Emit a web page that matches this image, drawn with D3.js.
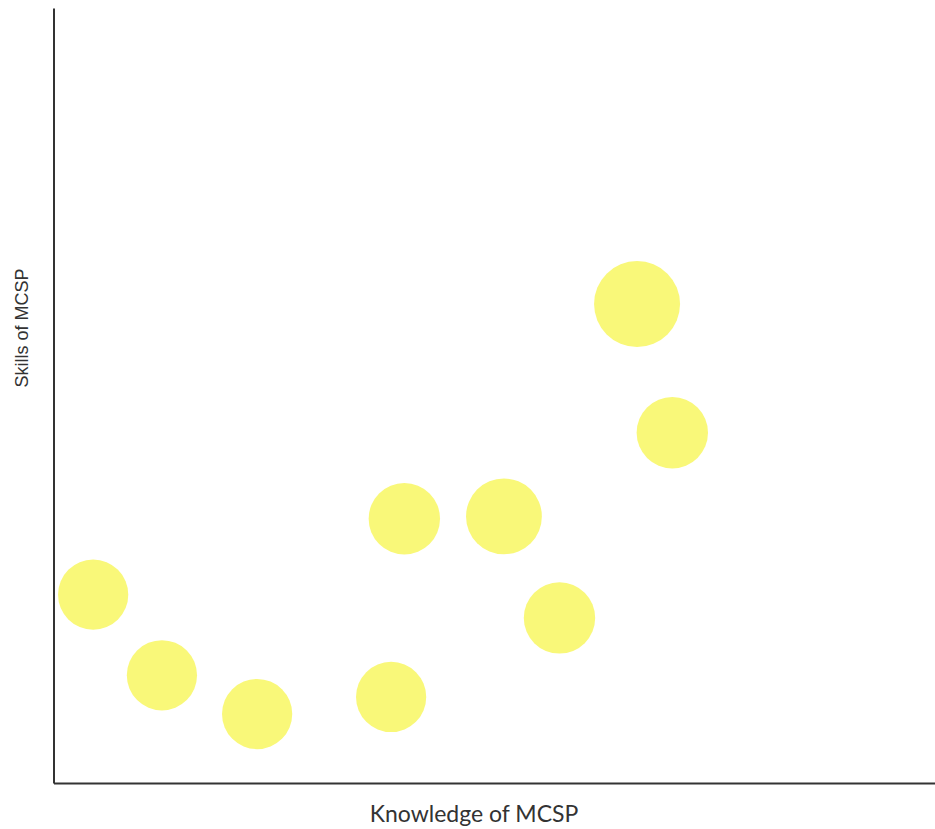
<!DOCTYPE html>
<html>
<head>
<meta charset="utf-8">
<script src="https://cdn.jsdelivr.net/npm/d3@7"></script>
<style>
  html, body { margin: 0; padding: 0; background: #fff; }
  svg { display: block; }
</style>
</head>
<body>
<svg id="chart" width="935" height="829"></svg>
<script>
// Data (arbitrary units 0-100 on both axes; bubble size relative)
const knowledge = [4.5, 12.3, 23.1, 38.3, 39.8, 51.1, 57.4, 66.2, 70.2];
const skills    = [24.3, 13.9, 8.9, 11.1, 34.1, 34.4, 21.3, 61.8, 45.2];
const sizes     = [3, 3, 3, 3, 3.1, 3.5, 3.1, 4.5, 3.1];
const xLabel = "Knowledge of MCSP";
const yLabel = "Skills of MCSP";

(function () {
const svg = d3.select("#chart");
const mLeft = 53.5, mRight = 935, mTop = 8, mBottom = 783;

const x = d3.scaleLinear().domain([0, 100]).range([mLeft, mRight]);
const y = d3.scaleLinear().domain([0, 100]).range([mBottom, mTop]);
const r = d3.scaleSqrt().domain([0, 4.5]).range([0, 43]);

const pts = knowledge.map((k, i) => ({ k, s: skills[i], z: sizes[i] }));

svg.append("g").selectAll("circle")
  .data(pts)
  .join("circle")
  .attr("cx", d => x(d.k))
  .attr("cy", d => y(d.s))
  .attr("r", d => r(d.z))
  .attr("fill", "#f9f879");

// Axes without ticks
const xAxis = d3.axisBottom(x).tickValues([]).tickSizeOuter(0);
const yAxis = d3.axisLeft(y).tickValues([]).tickSizeOuter(0);
svg.append("g").attr("transform", `translate(0,${mBottom})`).call(xAxis)
  .select(".domain").attr("stroke", "#333").attr("stroke-width", 2);
svg.append("g").attr("transform", `translate(${mLeft},0)`).call(yAxis)
  .select(".domain").attr("stroke", "#333").attr("stroke-width", 2);

svg.append("text")
  .attr("x", 474).attr("y", 822)
  .attr("text-anchor", "middle")
  .attr("font-family", "Lato, 'Open Sans', sans-serif")
  .attr("font-size", 23)
  .attr("fill", "#333")
  .text(xLabel);

svg.append("text")
  .attr("transform", "translate(28,328) rotate(-90)")
  .attr("text-anchor", "middle")
  .attr("font-family", "'Liberation Sans', Arial, sans-serif")
  .attr("font-size", 18)
  .attr("fill", "#333")
  .text(yLabel);
})();
</script>
</body>
</html>
